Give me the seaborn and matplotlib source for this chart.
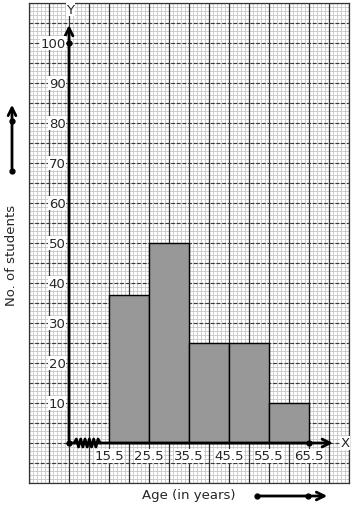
import numpy as np
import pandas as pd
import matplotlib
matplotlib.use("Agg")
import matplotlib.pyplot as plt
import seaborn as sns

# ---- data ----
bin_edges = [15.5, 25.5, 35.5, 45.5, 55.5, 65.5]
counts = [37, 50, 25, 25, 10]
x_tick_labels = ["15.5", "25.5", "35.5", "45.5", "55.5", "65.5"]
y_tick_values = [10, 20, 30, 40, 50, 60, 70, 80, 90, 100]
x_label = "Age (in years)"
y_label = "No. of students"

mids = [(a + b) / 2 for a, b in zip(bin_edges[:-1], bin_edges[1:])]
df = pd.DataFrame({"age": mids, "count": counts})

sns.set_style("white")
plt.rcParams["font.family"] = ["DejaVu Sans"]

W, H = 354, 510
fig = plt.figure(figsize=(W / 100, H / 100), dpi=100)
ax = fig.add_axes([29 / W, (H - 484) / H, 320 / W, 480 / H])

x0 = 5.5  # origin of the axes (x)
ax.set_xlim(-4.5, 75.5)
ax.set_ylim(-10, 110)

# graph-paper grid
for v in np.arange(-4.5, 75.6, 1):
    ax.axvline(v, color="#c6c6c6", lw=0.6, zorder=0)
for v in np.arange(-10, 110.1, 1):
    ax.axhline(v, color="#c6c6c6", lw=0.6, zorder=0)
for v in np.arange(-4.5, 75.6, 5):
    ax.axvline(v, color="#333333", lw=0.9, zorder=0.5)
for v in np.arange(-10, 110.1, 5):
    ax.axhline(v, color="#3a3a3a", lw=0.85, ls=(0, (3.2, 1.6)), zorder=0.5)

# histogram bars
sns.histplot(data=df, x="age", weights="count", bins=bin_edges, ax=ax,
             color="#989898", edgecolor="black", linewidth=1.0, alpha=1,
             zorder=2)

ax.set_xticks([])
ax.set_yticks([])
ax.set_xlabel("")
ax.set_ylabel("")
for s in ax.spines.values():
    s.set_color("#333333")
    s.set_linewidth(0.9)

# axes arrows
ax.annotate("", xy=(x0, 105.2), xytext=(x0, 0),
            arrowprops=dict(arrowstyle="->", lw=2, color="black",
                            mutation_scale=14), zorder=4)
ax.annotate("", xy=(72.2, 0), xytext=(x0, 0),
            arrowprops=dict(arrowstyle="->", lw=2, color="black",
                            mutation_scale=14), zorder=4)
ax.text(x0 + 0.3, 108.5, "Y", ha="center", va="center", fontsize=9.5,
        bbox=dict(fc="white", ec="none", pad=0.5), zorder=5)
ax.text(73.3, 0, "X", ha="left", va="center", fontsize=9.5,
        bbox=dict(fc="white", ec="none", pad=0.5), zorder=5)

# dots
ax.plot([x0, x0, 65.5], [0, 100, 0], "o", color="black", ms=3.5, zorder=6)

# zigzag axis break
n_zz = 13
zz_x = np.linspace(6.8, 13.3, n_zz)
zz_y = np.array([1.0 if i % 2 else -1.0 for i in range(n_zz)])
zz_y[0] = 0
zz_y[-1] = 0
ax.plot(zz_x, zz_y, color="black", lw=2.0, zorder=6)

# tick labels
for v in y_tick_values:
    ax.text(x0 - 0.9, v, str(v), ha="right", va="center", fontsize=9.5,
            bbox=dict(fc="white", ec="none", pad=0.4), zorder=5)
for v, lab in zip(bin_edges, x_tick_labels):
    ax.text(v, -3.2, lab, ha="center", va="center", fontsize=9.5,
            bbox=dict(fc="white", ec="none", pad=0.4), zorder=5)

# outside labels
fig.text(12 / W, 1 - 255 / H, y_label, rotation=90, ha="center",
         va="center", fontsize=9.5)
fig.text(189 / W, 1 - 496 / H, x_label, ha="center", va="center",
         fontsize=9.5)

# decorative arrows outside
fig.add_artist(matplotlib.patches.FancyArrowPatch(
    (12 / W, 1 - 172 / H), (12 / W, 1 - 103 / H), transform=fig.transFigure,
    arrowstyle="->", lw=2, color="black", mutation_scale=14))
fig.add_artist(matplotlib.lines.Line2D(
    [12 / W, 12 / W], [1 - 172 / H, 1 - 122 / H], transform=fig.transFigure,
    ls="none", marker="o", ms=3.5, color="black"))
fig.add_artist(matplotlib.patches.FancyArrowPatch(
    (257 / W, 1 - 497 / H), (330 / W, 1 - 497 / H), transform=fig.transFigure,
    arrowstyle="->", lw=2, color="black", mutation_scale=14))
fig.add_artist(matplotlib.lines.Line2D(
    [257 / W, 308 / W], [1 - 497 / H, 1 - 497 / H], transform=fig.transFigure,
    ls="none", marker="o", ms=3.5, color="black"))

fig.savefig("out.png", dpi=100, facecolor="white")
